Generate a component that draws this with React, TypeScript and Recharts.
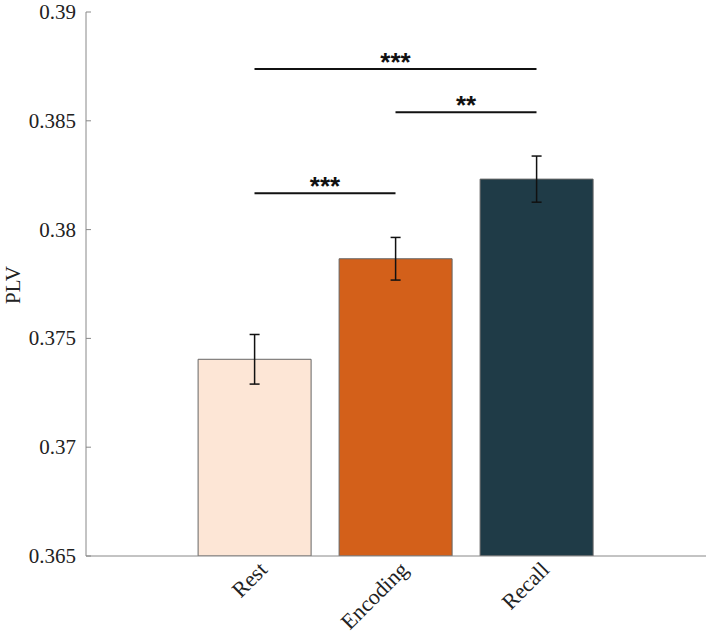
import { BarChart, Bar, XAxis, YAxis, Cell, ErrorBar, ReferenceLine } from 'recharts';

const categories = ['Rest', 'Encoding', 'Recall'];
const plvMean = [0.37404, 0.37866, 0.38232];
const plvSem = [0.00114, 0.00098, 0.00106];
const barColors = ['#fde6d6', '#d3601a', '#1f3b47'];

const yTicks = [0.365, 0.37, 0.375, 0.38, 0.385, 0.39];

// significance brackets: from, to, height, stars
const sigFrom = ['Rest', 'Encoding', 'Rest'];
const sigTo = ['Recall', 'Recall', 'Encoding'];
const sigLevel = [0.38738, 0.38539, 0.38167];
const sigStars = ['***', '**', '***'];

const data = categories.map((name, i) => ({ name, plv: plvMean[i], err: plvSem[i] }));

const serif = '"Liberation Serif", "Times New Roman", serif';

const YTick = (props: any) => {
  const { x, y, payload } = props;
  return (
    <g>
      <line x1={x + 10} x2={x + 15} y1={y} y2={y} stroke="#888" strokeWidth={1} />
      <text x={x} y={y} dy={7} textAnchor="end" fontSize={21} fontFamily={serif} fill="#222">
        {payload.value}
      </text>
    </g>
  );
};

const XTick = (props: any) => {
  const { x, payload } = props;
  const ax = x + 14;
  const ay = 571;
  return (
    <text
      x={ax}
      y={ay}
      textAnchor="end"
      fontSize={22}
      fontFamily={serif}
      fill="#222"
      transform={`rotate(-45, ${ax}, ${ay})`}
    >
      {payload.value}
    </text>
  );
};

const YLabel = () => (
  <text
    x={20}
    y={285}
    textAnchor="middle"
    fontSize={21}
    fontFamily={serif}
    fill="#222"
    transform="rotate(-90, 20, 285)"
  >
    PLV
  </text>
);

const StarLabel = (text: string) => (props: any) => {
  const { viewBox } = props;
  const cx = viewBox.x + viewBox.width / 2;
  return (
    <text x={cx} y={viewBox.y + 2} textAnchor="middle" fontSize={26} fontWeight="bold" fontFamily='"Liberation Sans", Arial, sans-serif' fill="#111">
      {text}
    </text>
  );
};

export default function App() {
  return (
    <div style={{ position: 'absolute', left: 0, top: 0, background: '#fff' }}>
      <BarChart
        width={708}
        height={639}
        data={data}
        margin={{ top: 12, right: 2, left: 0, bottom: 0 }}
        barCategoryGap="10%"
      >
        <XAxis
          dataKey="name"
          type="category"
          padding={{ left: 98, right: 99 }}
          height={83}
          stroke="#888"
          tickLine={false}
          tick={<XTick />}
          interval={0}
        />
        <YAxis
          type="number"
          domain={[0.365, 0.39]}
          ticks={yTicks}
          allowDataOverflow
          width={86}
          stroke="#888"
          tickLine={false}
          tickSize={0}
          tickMargin={10}
          tick={<YTick />}
          label={<YLabel />}
        />
        <Bar dataKey="plv" stroke="#666" strokeWidth={1} isAnimationActive={false}>
          {data.map((d, i) => (
            <Cell key={d.name} fill={barColors[i]} />
          ))}
          <ErrorBar dataKey="err" width={5} stroke="#111" strokeWidth={1.5} isAnimationActive={false} />
        </Bar>
        {sigLevel.map((lv, i) => (
          <ReferenceLine
            key={i}
            segment={[{ x: sigFrom[i], y: lv }, { x: sigTo[i], y: lv }]}
            stroke="#111"
            strokeWidth={2}
            label={StarLabel(sigStars[i])}
            ifOverflow="visible"
          />
        ))}
      </BarChart>
    </div>
  );
}
